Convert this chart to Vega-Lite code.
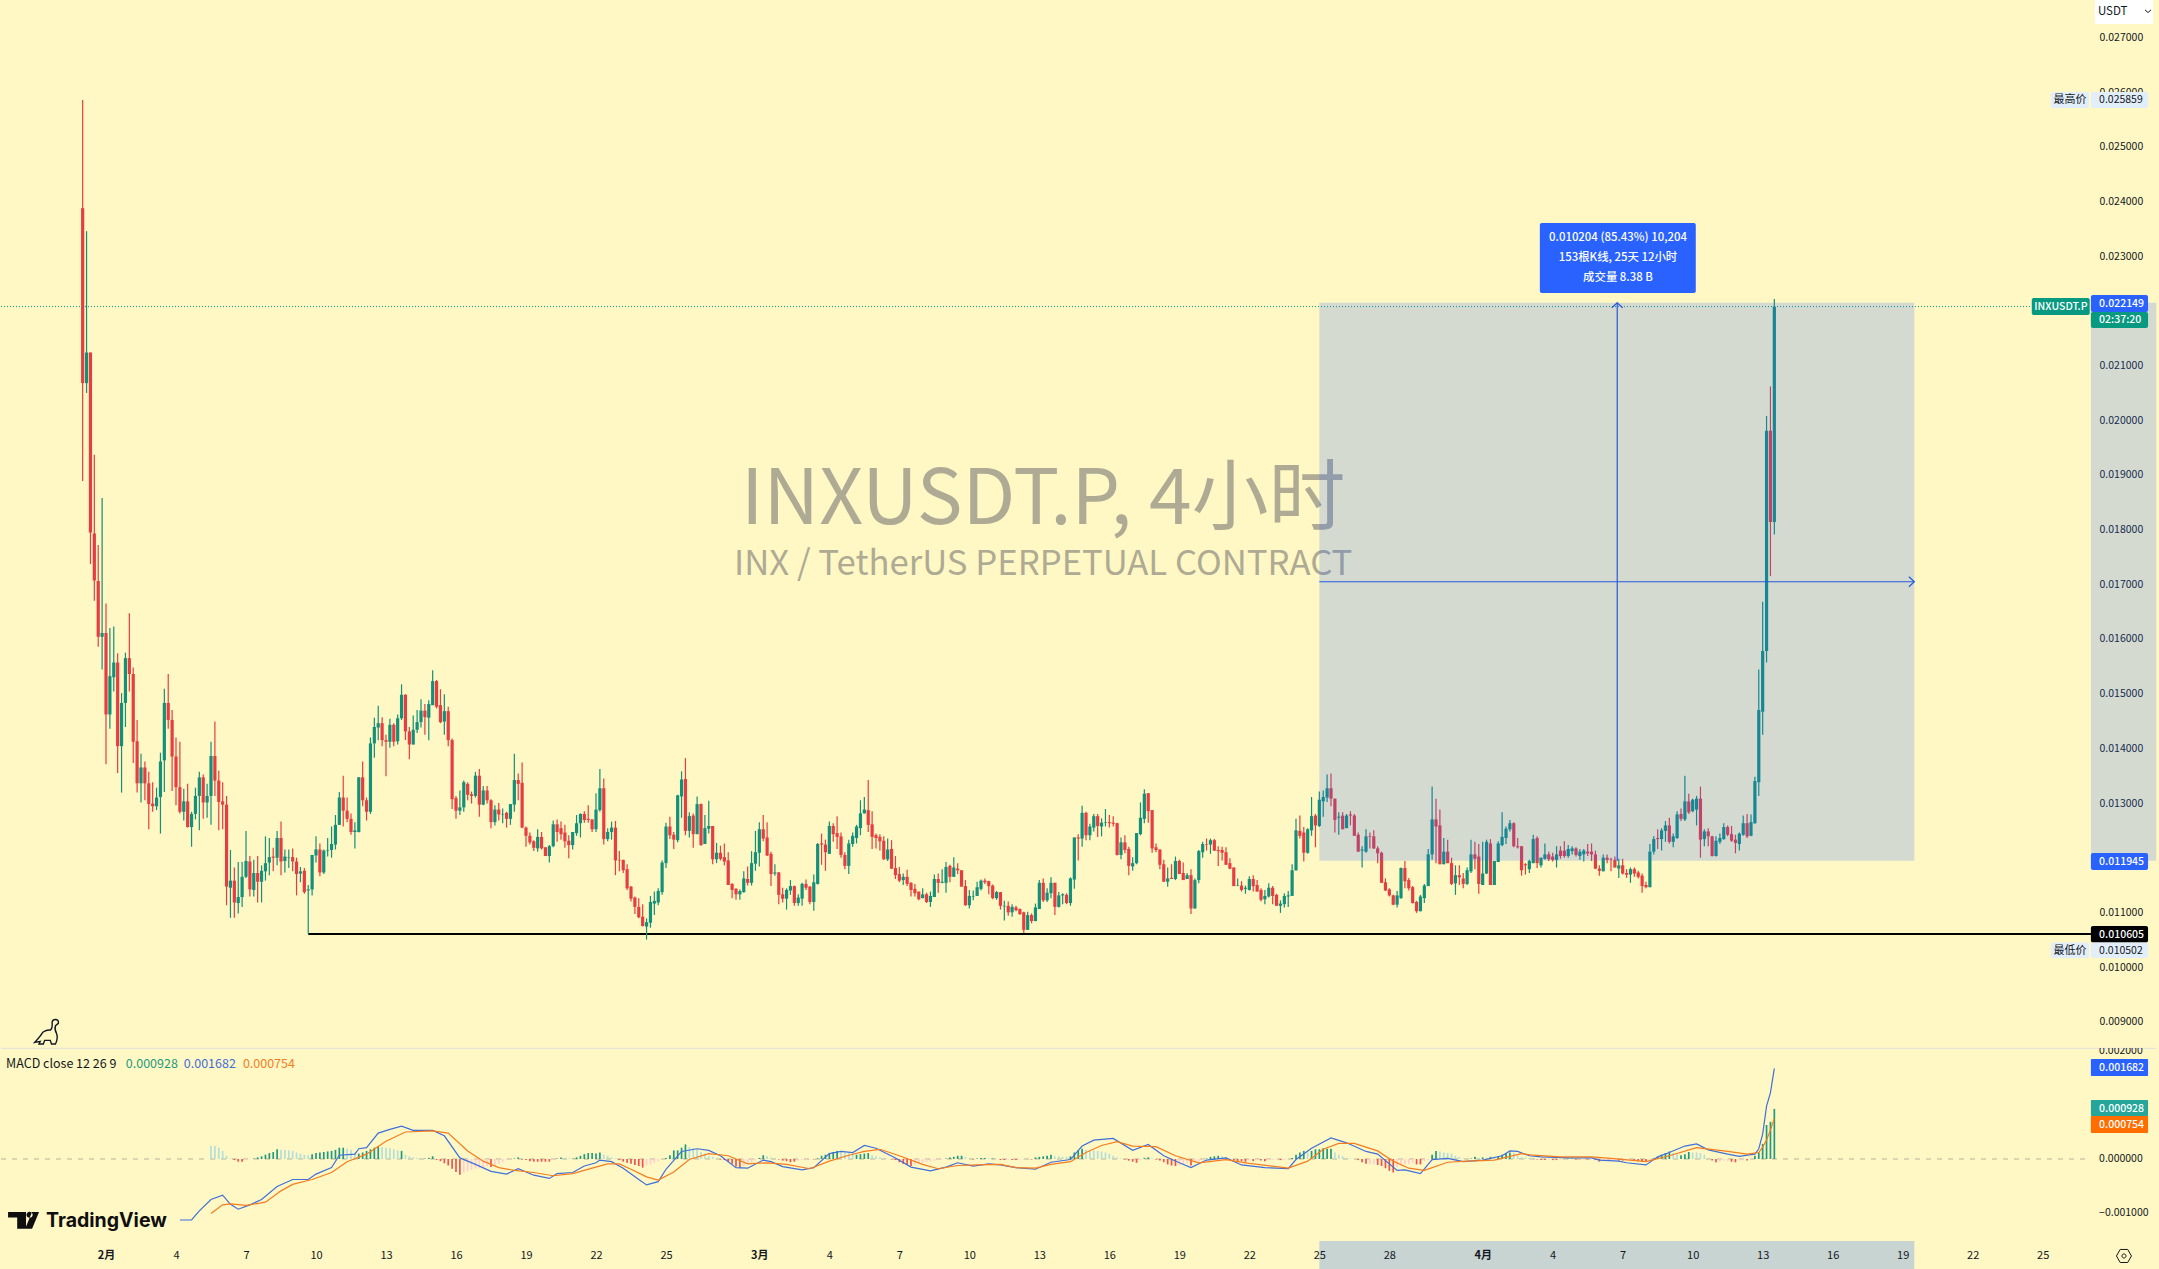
{"$schema":"https://vega.github.io/schema/vega-lite/v6.json","background":"#fff8c4","padding":0,"spacing":0,"autosize":{"type":"pad"},"config":{"view":{"stroke":null},"font":"Noto Sans CJK SC","text":{"font":"Noto Sans CJK SC"}},"resolve":{"scale":{"color":"independent"}},
"datasets":{
"candles":[
{"i":-6,"o":0.02388,"h":0.025859,"l":0.01889,"c":0.02068},{"i":-5,"o":0.02068,"h":0.02346,"l":0.0205,"c":0.02124},{"i":-4,"o":0.02124,"h":0.02124,"l":0.01737,"c":0.01795},{"i":-3,"o":0.01793,"h":0.01937,"l":0.0167,"c":0.01707},{"i":-2,"o":0.01706,"h":0.01772,"l":0.01586,"c":0.01604},{"i":-1,"o":0.01604,"h":0.01858,"l":0.01544,"c":0.01611},
{"i":0,"o":0.01611,"h":0.01665,"l":0.01371,"c":0.01462},{"i":1,"o":0.01462,"h":0.0162,"l":0.01436,"c":0.01532},{"i":2,"o":0.0153,"h":0.01623,"l":0.01504,"c":0.01557},{"i":3,"o":0.01557,"h":0.01574,"l":0.01355,"c":0.01404},{"i":4,"o":0.01404,"h":0.01501,"l":0.01319,"c":0.01483},{"i":5,"o":0.01483,"h":0.01575,"l":0.01439,"c":0.01565},{"i":6,"o":0.01565,"h":0.01647,"l":0.01504,"c":0.01536},{"i":7,"o":0.01536,"h":0.01548,"l":0.01373,"c":0.01412},{"i":8,"o":0.01413,"h":0.01452,"l":0.01319,"c":0.01336},{"i":9,"o":0.01336,"h":0.0139,"l":0.01301,"c":0.01365},
{"i":10,"o":0.01365,"h":0.01376,"l":0.01305,"c":0.01336},{"i":11,"o":0.01336,"h":0.01357,"l":0.01252,"c":0.01298},{"i":12,"o":0.01299,"h":0.01338,"l":0.01284,"c":0.01294},{"i":13,"o":0.01294,"h":0.01328,"l":0.01287,"c":0.0131},{"i":14,"o":0.01311,"h":0.01392,"l":0.01244,"c":0.01376},{"i":15,"o":0.01378,"h":0.01509,"l":0.0132,"c":0.01483},{"i":16,"o":0.01483,"h":0.01536,"l":0.01436,"c":0.01452},{"i":17,"o":0.01452,"h":0.0147,"l":0.01322,"c":0.01385},{"i":18,"o":0.01385,"h":0.0142,"l":0.01296,"c":0.01329},{"i":19,"o":0.01329,"h":0.01412,"l":0.01281,"c":0.01284},
{"i":20,"o":0.01284,"h":0.01326,"l":0.01268,"c":0.01303},{"i":21,"o":0.01303,"h":0.01335,"l":0.01255,"c":0.01256},{"i":22,"o":0.01256,"h":0.01284,"l":0.0122,"c":0.0128},{"i":23,"o":0.0128,"h":0.01328,"l":0.0127,"c":0.01313},{"i":24,"o":0.01313,"h":0.01357,"l":0.0125,"c":0.01347},{"i":25,"o":0.01347,"h":0.01352,"l":0.01271,"c":0.01301},{"i":26,"o":0.01301,"h":0.01335,"l":0.01273,"c":0.01313},{"i":27,"o":0.01313,"h":0.01412,"l":0.0126,"c":0.01386},{"i":28,"o":0.01386,"h":0.01449,"l":0.01313,"c":0.01341},{"i":29,"o":0.01341,"h":0.01359,"l":0.0125,"c":0.01302},
{"i":30,"o":0.01303,"h":0.01338,"l":0.01252,"c":0.01297},{"i":31,"o":0.01297,"h":0.01313,"l":0.01113,"c":0.01147},{"i":32,"o":0.01145,"h":0.01214,"l":0.0109,"c":0.01158},{"i":33,"o":0.01158,"h":0.01182,"l":0.0109,"c":0.01118},{"i":34,"o":0.01117,"h":0.01192,"l":0.01098,"c":0.01128},{"i":35,"o":0.01128,"h":0.01192,"l":0.0111,"c":0.01165},{"i":36,"o":0.01165,"h":0.01249,"l":0.01163,"c":0.01194},{"i":37,"o":0.01193,"h":0.01203,"l":0.01129,"c":0.01142},{"i":38,"o":0.01141,"h":0.01196,"l":0.01129,"c":0.01172},{"i":39,"o":0.01172,"h":0.01203,"l":0.01118,"c":0.01156},
{"i":40,"o":0.01156,"h":0.01186,"l":0.01118,"c":0.01176},{"i":41,"o":0.01175,"h":0.01239,"l":0.01158,"c":0.0119},{"i":42,"o":0.01191,"h":0.01236,"l":0.01168,"c":0.01201},{"i":43,"o":0.01202,"h":0.01218,"l":0.01175,"c":0.012},{"i":44,"o":0.012,"h":0.01249,"l":0.01186,"c":0.01236},{"i":45,"o":0.01236,"h":0.01266,"l":0.01168,"c":0.01193},{"i":46,"o":0.01194,"h":0.01215,"l":0.01173,"c":0.01202},{"i":47,"o":0.012,"h":0.01215,"l":0.01181,"c":0.01201},{"i":48,"o":0.01201,"h":0.01217,"l":0.01175,"c":0.01193},{"i":49,"o":0.01193,"h":0.012,"l":0.01131,"c":0.0117},
{"i":50,"o":0.01171,"h":0.01183,"l":0.01155,"c":0.01175},{"i":51,"o":0.01176,"h":0.01181,"l":0.01134,"c":0.01137},{"i":52,"o":0.0114,"h":0.0115,"l":0.01061,"c":0.01142},{"i":53,"o":0.01142,"h":0.01205,"l":0.01131,"c":0.01205},{"i":54,"o":0.01204,"h":0.01239,"l":0.01191,"c":0.01215},{"i":55,"o":0.01215,"h":0.01226,"l":0.01166,"c":0.01173},{"i":56,"o":0.01173,"h":0.01215,"l":0.0117,"c":0.01213},{"i":57,"o":0.01213,"h":0.01236,"l":0.01202,"c":0.01214},{"i":58,"o":0.01214,"h":0.01257,"l":0.012,"c":0.01225},{"i":59,"o":0.01224,"h":0.01278,"l":0.01215,"c":0.0126},
{"i":60,"o":0.0126,"h":0.0132,"l":0.0126,"c":0.0131},{"i":61,"o":0.0131,"h":0.0135,"l":0.01257,"c":0.01286},{"i":62,"o":0.01286,"h":0.0131,"l":0.01265,"c":0.01271},{"i":63,"o":0.01271,"h":0.01281,"l":0.01242,"c":0.01247},{"i":64,"o":0.01247,"h":0.01265,"l":0.01217,"c":0.0125},{"i":65,"o":0.01247,"h":0.01347,"l":0.01246,"c":0.01347},{"i":66,"o":0.01347,"h":0.01376,"l":0.01294,"c":0.01305},{"i":67,"o":0.01305,"h":0.0131,"l":0.01268,"c":0.01284},{"i":68,"o":0.01284,"h":0.0142,"l":0.0128,"c":0.01409},{"i":69,"o":0.01409,"h":0.01456,"l":0.01383,"c":0.01439},
{"i":70,"o":0.01438,"h":0.01478,"l":0.01415,"c":0.01446},{"i":71,"o":0.01446,"h":0.01457,"l":0.01404,"c":0.01415},{"i":72,"o":0.01415,"h":0.01425,"l":0.01349,"c":0.01412},{"i":73,"o":0.01412,"h":0.01454,"l":0.01401,"c":0.01443},{"i":74,"o":0.01443,"h":0.01446,"l":0.01404,"c":0.01412},{"i":75,"o":0.01413,"h":0.01462,"l":0.01407,"c":0.01455},{"i":76,"o":0.01455,"h":0.01517,"l":0.01452,"c":0.01498},{"i":77,"o":0.01498,"h":0.01499,"l":0.01415,"c":0.01431},{"i":78,"o":0.01431,"h":0.01439,"l":0.0138,"c":0.01407},{"i":79,"o":0.01407,"h":0.0146,"l":0.01407,"c":0.01434},
{"i":80,"o":0.01434,"h":0.0147,"l":0.01428,"c":0.01448},{"i":81,"o":0.01448,"h":0.0149,"l":0.01438,"c":0.01469},{"i":82,"o":0.01469,"h":0.01481,"l":0.01425,"c":0.01457},{"i":83,"o":0.01456,"h":0.01488,"l":0.01415,"c":0.01481},{"i":84,"o":0.01479,"h":0.01543,"l":0.01479,"c":0.01523},{"i":85,"o":0.01523,"h":0.01525,"l":0.01473,"c":0.01476},{"i":86,"o":0.01479,"h":0.01508,"l":0.01446,"c":0.01448},{"i":87,"o":0.01449,"h":0.01499,"l":0.01425,"c":0.01468},{"i":88,"o":0.01468,"h":0.01476,"l":0.01404,"c":0.01415},{"i":89,"o":0.01415,"h":0.01418,"l":0.01289,"c":0.01307},
{"i":90,"o":0.01309,"h":0.01313,"l":0.01271,"c":0.01286},{"i":91,"o":0.01286,"h":0.01323,"l":0.01278,"c":0.01292},{"i":92,"o":0.01292,"h":0.01341,"l":0.01284,"c":0.01338},{"i":93,"o":0.01335,"h":0.01338,"l":0.01305,"c":0.01315},{"i":94,"o":0.01316,"h":0.01321,"l":0.01299,"c":0.01313},{"i":95,"o":0.01313,"h":0.01357,"l":0.0131,"c":0.0135},{"i":96,"o":0.0135,"h":0.01362,"l":0.01275,"c":0.01297},{"i":97,"o":0.01297,"h":0.01331,"l":0.01296,"c":0.01323},{"i":98,"o":0.01323,"h":0.01331,"l":0.01299,"c":0.01305},{"i":99,"o":0.01305,"h":0.01307,"l":0.01254,"c":0.01265},
{"i":100,"o":0.01265,"h":0.01296,"l":0.01259,"c":0.01288},{"i":101,"o":0.01288,"h":0.013,"l":0.01268,"c":0.01279},{"i":102,"o":0.01279,"h":0.0129,"l":0.01263,"c":0.0128},{"i":103,"o":0.01282,"h":0.01284,"l":0.01255,"c":0.01271},{"i":104,"o":0.01271,"h":0.01298,"l":0.0126,"c":0.01298},{"i":105,"o":0.01297,"h":0.0139,"l":0.01284,"c":0.01342},{"i":106,"o":0.01342,"h":0.01354,"l":0.01305,"c":0.01335},{"i":107,"o":0.01337,"h":0.01374,"l":0.01254,"c":0.01255},{"i":108,"o":0.01255,"h":0.01257,"l":0.0122,"c":0.0124},{"i":109,"o":0.0124,"h":0.01246,"l":0.01224,"c":0.01228},
{"i":110,"o":0.0123,"h":0.01232,"l":0.01212,"c":0.01218},{"i":111,"o":0.01217,"h":0.01252,"l":0.01211,"c":0.01238},{"i":112,"o":0.01238,"h":0.01247,"l":0.01215,"c":0.01217},{"i":113,"o":0.01219,"h":0.01219,"l":0.01203,"c":0.01203},{"i":114,"o":0.01203,"h":0.01223,"l":0.01191,"c":0.01221},{"i":115,"o":0.01221,"h":0.01268,"l":0.01219,"c":0.01261},{"i":116,"o":0.01261,"h":0.0127,"l":0.01229,"c":0.01247},{"i":117,"o":0.01254,"h":0.01266,"l":0.01233,"c":0.01243},{"i":118,"o":0.01246,"h":0.0126,"l":0.01218,"c":0.0123},{"i":119,"o":0.01231,"h":0.01241,"l":0.01199,"c":0.01223},
{"i":120,"o":0.01223,"h":0.01247,"l":0.01215,"c":0.01247},{"i":121,"o":0.01245,"h":0.01278,"l":0.0124,"c":0.01263},{"i":122,"o":0.01263,"h":0.01281,"l":0.01237,"c":0.0128},{"i":123,"o":0.0128,"h":0.01285,"l":0.01264,"c":0.01269},{"i":124,"o":0.01271,"h":0.01296,"l":0.01264,"c":0.01269},{"i":125,"o":0.0127,"h":0.0127,"l":0.01247,"c":0.01252},{"i":126,"o":0.01252,"h":0.01318,"l":0.01247,"c":0.01288},{"i":127,"o":0.01287,"h":0.01362,"l":0.01284,"c":0.01327},{"i":128,"o":0.01327,"h":0.01345,"l":0.01224,"c":0.01234},{"i":129,"o":0.01234,"h":0.01254,"l":0.0123,"c":0.01247},
{"i":130,"o":0.01247,"h":0.01266,"l":0.01233,"c":0.01255},{"i":131,"o":0.01255,"h":0.01267,"l":0.01168,"c":0.01195},{"i":132,"o":0.01196,"h":0.01212,"l":0.01175,"c":0.01195},{"i":133,"o":0.01196,"h":0.01196,"l":0.01172,"c":0.01177},{"i":134,"o":0.01179,"h":0.01188,"l":0.01141,"c":0.01144},{"i":135,"o":0.01147,"h":0.01148,"l":0.0112,"c":0.01125},{"i":136,"o":0.01127,"h":0.01129,"l":0.01097,"c":0.0111},{"i":137,"o":0.0111,"h":0.01126,"l":0.01089,"c":0.01091},{"i":138,"o":0.01092,"h":0.01115,"l":0.01074,"c":0.01075},{"i":139,"o":0.01074,"h":0.01089,"l":0.010502,"c":0.01082},
{"i":140,"o":0.01081,"h":0.0113,"l":0.01072,"c":0.01119},{"i":141,"o":0.01116,"h":0.01138,"l":0.01095,"c":0.01121},{"i":142,"o":0.01118,"h":0.01144,"l":0.01113,"c":0.01139},{"i":143,"o":0.01137,"h":0.01195,"l":0.01132,"c":0.01191},{"i":144,"o":0.0119,"h":0.01264,"l":0.01181,"c":0.01257},{"i":145,"o":0.01257,"h":0.01275,"l":0.01234,"c":0.01241},{"i":146,"o":0.01242,"h":0.01247,"l":0.01216,"c":0.01233},{"i":147,"o":0.01232,"h":0.01315,"l":0.01228,"c":0.01314},{"i":148,"o":0.01312,"h":0.01358,"l":0.01273,"c":0.01343},{"i":149,"o":0.01344,"h":0.01382,"l":0.01241,"c":0.01249},
{"i":150,"o":0.01249,"h":0.01283,"l":0.01237,"c":0.01276},{"i":151,"o":0.01277,"h":0.01281,"l":0.01218,"c":0.01243},{"i":152,"o":0.01243,"h":0.01312,"l":0.01243,"c":0.01298},{"i":153,"o":0.01298,"h":0.01299,"l":0.01222,"c":0.01223},{"i":154,"o":0.01225,"h":0.01278,"l":0.01225,"c":0.01254},{"i":155,"o":0.01253,"h":0.01304,"l":0.01244,"c":0.01258},{"i":156,"o":0.01258,"h":0.01258,"l":0.01188,"c":0.01197},{"i":157,"o":0.01197,"h":0.01227,"l":0.0119,"c":0.01209},{"i":158,"o":0.01209,"h":0.01222,"l":0.01195,"c":0.01198},{"i":159,"o":0.01201,"h":0.01226,"l":0.01186,"c":0.01193},
{"i":160,"o":0.01195,"h":0.0121,"l":0.0115,"c":0.0115},{"i":161,"o":0.01152,"h":0.01153,"l":0.01126,"c":0.01141},{"i":162,"o":0.01143,"h":0.01144,"l":0.01123,"c":0.01133},{"i":163,"o":0.01133,"h":0.01142,"l":0.01123,"c":0.01139},{"i":164,"o":0.01137,"h":0.01175,"l":0.01136,"c":0.01162},{"i":165,"o":0.01161,"h":0.01184,"l":0.01149,"c":0.01154},{"i":166,"o":0.01154,"h":0.01212,"l":0.01149,"c":0.0119},{"i":167,"o":0.01189,"h":0.01249,"l":0.01176,"c":0.0121},{"i":168,"o":0.01209,"h":0.01265,"l":0.01184,"c":0.01252},{"i":169,"o":0.01252,"h":0.01278,"l":0.0123,"c":0.01235},
{"i":170,"o":0.01237,"h":0.01265,"l":0.01203,"c":0.01204},{"i":171,"o":0.01207,"h":0.01211,"l":0.01148,"c":0.0117},{"i":172,"o":0.01171,"h":0.01188,"l":0.01167,"c":0.01173},{"i":173,"o":0.01173,"h":0.01174,"l":0.01115,"c":0.01132},{"i":174,"o":0.01133,"h":0.01145,"l":0.01118,"c":0.01125},{"i":175,"o":0.01125,"h":0.01144,"l":0.01105,"c":0.01141},{"i":176,"o":0.0114,"h":0.01159,"l":0.01132,"c":0.01148},{"i":177,"o":0.01148,"h":0.01149,"l":0.01112,"c":0.01117},{"i":178,"o":0.01117,"h":0.01133,"l":0.01112,"c":0.01127},{"i":179,"o":0.01125,"h":0.01154,"l":0.01112,"c":0.01152},
{"i":180,"o":0.01152,"h":0.0116,"l":0.01141,"c":0.01145},{"i":181,"o":0.01147,"h":0.01148,"l":0.01115,"c":0.01119},{"i":182,"o":0.01119,"h":0.01169,"l":0.01103,"c":0.01155},{"i":183,"o":0.01152,"h":0.01227,"l":0.01151,"c":0.01225},{"i":184,"o":0.01226,"h":0.01244,"l":0.01187,"c":0.01224},{"i":185,"o":0.01224,"h":0.01233,"l":0.01176,"c":0.0121},{"i":186,"o":0.01207,"h":0.01266,"l":0.01207,"c":0.01258},{"i":187,"o":0.01258,"h":0.01263,"l":0.01229,"c":0.01243},{"i":188,"o":0.01245,"h":0.01276,"l":0.01216,"c":0.01238},{"i":189,"o":0.01239,"h":0.01246,"l":0.012,"c":0.01205},
{"i":190,"o":0.01205,"h":0.0121,"l":0.01179,"c":0.01185},{"i":191,"o":0.01185,"h":0.01233,"l":0.0117,"c":0.01226},{"i":192,"o":0.01225,"h":0.01246,"l":0.0122,"c":0.0124},{"i":193,"o":0.01236,"h":0.0126,"l":0.01226,"c":0.01257},{"i":194,"o":0.01254,"h":0.01305,"l":0.01241,"c":0.01281},{"i":195,"o":0.01281,"h":0.01311,"l":0.01281,"c":0.01288},{"i":196,"o":0.01287,"h":0.01342,"l":0.01247,"c":0.0126},{"i":197,"o":0.01261,"h":0.01285,"l":0.01216,"c":0.01238},{"i":198,"o":0.01241,"h":0.01244,"l":0.01217,"c":0.01236},{"i":199,"o":0.01238,"h":0.01243,"l":0.01213,"c":0.0123},
{"i":200,"o":0.01231,"h":0.01239,"l":0.01196,"c":0.01197},{"i":201,"o":0.01197,"h":0.01235,"l":0.01194,"c":0.01215},{"i":202,"o":0.01216,"h":0.01232,"l":0.01179,"c":0.0118},{"i":203,"o":0.01181,"h":0.01203,"l":0.01161,"c":0.01168},{"i":204,"o":0.0117,"h":0.01183,"l":0.01155,"c":0.01158},{"i":205,"o":0.01159,"h":0.01171,"l":0.0115,"c":0.01165},{"i":206,"o":0.01165,"h":0.01178,"l":0.01148,"c":0.01152},{"i":207,"o":0.01154,"h":0.01155,"l":0.01129,"c":0.01141},{"i":208,"o":0.01143,"h":0.01152,"l":0.01129,"c":0.01135},{"i":209,"o":0.01138,"h":0.01138,"l":0.01122,"c":0.01124},
{"i":210,"o":0.01126,"h":0.01144,"l":0.01126,"c":0.01133},{"i":211,"o":0.01133,"h":0.01136,"l":0.01117,"c":0.01119},{"i":212,"o":0.01119,"h":0.01138,"l":0.0111,"c":0.0113},{"i":213,"o":0.01128,"h":0.01169,"l":0.01128,"c":0.01161},{"i":214,"o":0.01161,"h":0.01171,"l":0.01136,"c":0.01154},{"i":215,"o":0.01154,"h":0.01179,"l":0.01153,"c":0.01156},{"i":216,"o":0.01154,"h":0.01192,"l":0.01136,"c":0.01183},{"i":217,"o":0.01185,"h":0.01187,"l":0.01155,"c":0.01165},{"i":218,"o":0.01165,"h":0.01201,"l":0.01165,"c":0.01182},{"i":219,"o":0.0118,"h":0.0119,"l":0.0117,"c":0.01177},
{"i":220,"o":0.01177,"h":0.01177,"l":0.01147,"c":0.01147},{"i":221,"o":0.01148,"h":0.01159,"l":0.01112,"c":0.01113},{"i":222,"o":0.01113,"h":0.01141,"l":0.01107,"c":0.0113},{"i":223,"o":0.01129,"h":0.0114,"l":0.01122,"c":0.0113},{"i":224,"o":0.0113,"h":0.01156,"l":0.0113,"c":0.01146},{"i":225,"o":0.01143,"h":0.0116,"l":0.0114,"c":0.01158},{"i":226,"o":0.01158,"h":0.01162,"l":0.01152,"c":0.01155},{"i":227,"o":0.01157,"h":0.01158,"l":0.01133,"c":0.01148},{"i":228,"o":0.01149,"h":0.01151,"l":0.01124,"c":0.01126},{"i":229,"o":0.01126,"h":0.01139,"l":0.01123,"c":0.01137},
{"i":230,"o":0.01137,"h":0.01137,"l":0.01105,"c":0.01112},{"i":231,"o":0.01111,"h":0.01121,"l":0.01085,"c":0.01112},{"i":232,"o":0.01112,"h":0.0112,"l":0.01094,"c":0.011},{"i":233,"o":0.011,"h":0.01115,"l":0.01092,"c":0.0111},{"i":234,"o":0.01109,"h":0.01112,"l":0.01102,"c":0.01104},{"i":235,"o":0.01106,"h":0.01107,"l":0.01095,"c":0.01097},{"i":236,"o":0.011,"h":0.01101,"l":0.01062,"c":0.01068},{"i":237,"o":0.01068,"h":0.01101,"l":0.01068,"c":0.01095},{"i":238,"o":0.01095,"h":0.01098,"l":0.0108,"c":0.01084},{"i":239,"o":0.01084,"h":0.01116,"l":0.01084,"c":0.01109},
{"i":240,"o":0.01106,"h":0.01159,"l":0.01106,"c":0.01154},{"i":241,"o":0.01154,"h":0.01162,"l":0.01119,"c":0.01122},{"i":242,"o":0.01122,"h":0.01144,"l":0.01119,"c":0.01136},{"i":243,"o":0.01135,"h":0.01164,"l":0.01126,"c":0.01154},{"i":244,"o":0.01154,"h":0.01154,"l":0.01095,"c":0.0111},{"i":245,"o":0.0111,"h":0.01137,"l":0.01109,"c":0.01131},{"i":246,"o":0.01131,"h":0.01135,"l":0.01115,"c":0.01133},{"i":247,"o":0.01132,"h":0.01135,"l":0.01115,"c":0.01117},{"i":248,"o":0.01117,"h":0.01164,"l":0.01112,"c":0.01162},{"i":249,"o":0.0116,"h":0.01237,"l":0.01143,"c":0.01237},
{"i":250,"o":0.01237,"h":0.01243,"l":0.01195,"c":0.01235},{"i":251,"o":0.01235,"h":0.01295,"l":0.0122,"c":0.01282},{"i":252,"o":0.01282,"h":0.01284,"l":0.01232,"c":0.01241},{"i":253,"o":0.01241,"h":0.01262,"l":0.01232,"c":0.01257},{"i":254,"o":0.01255,"h":0.0128,"l":0.01248,"c":0.01276},{"i":255,"o":0.01276,"h":0.0128,"l":0.01238,"c":0.01258},{"i":256,"o":0.01257,"h":0.01272,"l":0.01239,"c":0.01264},{"i":257,"o":0.01264,"h":0.01289,"l":0.01257,"c":0.01265},{"i":258,"o":0.01265,"h":0.01278,"l":0.01255,"c":0.01263},{"i":259,"o":0.01264,"h":0.01276,"l":0.01257,"c":0.01262},
{"i":260,"o":0.01263,"h":0.01264,"l":0.01204,"c":0.01205},{"i":261,"o":0.01205,"h":0.01237,"l":0.01197,"c":0.01228},{"i":262,"o":0.01228,"h":0.01241,"l":0.01208,"c":0.01214},{"i":263,"o":0.01216,"h":0.0122,"l":0.01168,"c":0.01185},{"i":264,"o":0.01184,"h":0.01201,"l":0.01176,"c":0.0119},{"i":265,"o":0.0119,"h":0.01245,"l":0.01188,"c":0.01245},{"i":266,"o":0.01243,"h":0.01301,"l":0.01241,"c":0.01273},{"i":267,"o":0.01271,"h":0.01325,"l":0.01263,"c":0.01317},{"i":268,"o":0.01318,"h":0.01318,"l":0.01264,"c":0.01285},{"i":269,"o":0.01287,"h":0.01287,"l":0.01209,"c":0.01217},
{"i":270,"o":0.01219,"h":0.01226,"l":0.0121,"c":0.01214},{"i":271,"o":0.01215,"h":0.01215,"l":0.01179,"c":0.01187},{"i":272,"o":0.01188,"h":0.01196,"l":0.01156,"c":0.01156},{"i":273,"o":0.01156,"h":0.01182,"l":0.01147,"c":0.01162},{"i":274,"o":0.01163,"h":0.01188,"l":0.01161,"c":0.01161},{"i":275,"o":0.01161,"h":0.01202,"l":0.01159,"c":0.01194},{"i":276,"o":0.01194,"h":0.01196,"l":0.0117,"c":0.0117},{"i":277,"o":0.01172,"h":0.01191,"l":0.01159,"c":0.01159},{"i":278,"o":0.01161,"h":0.01172,"l":0.01161,"c":0.01168},{"i":279,"o":0.01168,"h":0.01179,"l":0.01097,"c":0.01107},
{"i":280,"o":0.01107,"h":0.01162,"l":0.01107,"c":0.01159},{"i":281,"o":0.01159,"h":0.01214,"l":0.01153,"c":0.01212},{"i":282,"o":0.0121,"h":0.01229,"l":0.012,"c":0.01225},{"i":283,"o":0.01225,"h":0.01235,"l":0.01213,"c":0.01224},{"i":284,"o":0.01224,"h":0.01235,"l":0.01207,"c":0.01232},{"i":285,"o":0.01232,"h":0.01234,"l":0.01212,"c":0.01213},{"i":286,"o":0.01214,"h":0.01221,"l":0.01185,"c":0.01212},{"i":287,"o":0.01214,"h":0.0122,"l":0.01195,"c":0.01209},{"i":288,"o":0.0121,"h":0.01219,"l":0.01187,"c":0.01187},{"i":289,"o":0.0119,"h":0.01199,"l":0.01179,"c":0.0118},
{"i":290,"o":0.01182,"h":0.01182,"l":0.01148,"c":0.01148},{"i":291,"o":0.01148,"h":0.01162,"l":0.01148,"c":0.01149},{"i":292,"o":0.01149,"h":0.01157,"l":0.01138,"c":0.01141},{"i":293,"o":0.01143,"h":0.01149,"l":0.01134,"c":0.01145},{"i":294,"o":0.01141,"h":0.01166,"l":0.0114,"c":0.01161},{"i":295,"o":0.01161,"h":0.01168,"l":0.01138,"c":0.01148},{"i":296,"o":0.0115,"h":0.01159,"l":0.01138,"c":0.01138},{"i":297,"o":0.01141,"h":0.01144,"l":0.0112,"c":0.01123},{"i":298,"o":0.01124,"h":0.01141,"l":0.01115,"c":0.0113},{"i":299,"o":0.01129,"h":0.01153,"l":0.01127,"c":0.01145},
{"i":300,"o":0.01145,"h":0.01148,"l":0.01115,"c":0.0113},{"i":301,"o":0.01132,"h":0.01134,"l":0.01112,"c":0.01112},{"i":302,"o":0.01112,"h":0.01122,"l":0.01099,"c":0.01116},{"i":303,"o":0.01115,"h":0.01135,"l":0.01109,"c":0.0113},{"i":304,"o":0.01129,"h":0.01139,"l":0.0111,"c":0.01131},{"i":305,"o":0.0113,"h":0.01188,"l":0.0113,"c":0.01177},{"i":306,"o":0.01177,"h":0.01271,"l":0.01176,"c":0.0125},{"i":307,"o":0.01249,"h":0.01277,"l":0.01235,"c":0.0124},{"i":308,"o":0.01246,"h":0.01256,"l":0.01193,"c":0.01209},{"i":309,"o":0.01209,"h":0.01254,"l":0.01207,"c":0.01252},
{"i":310,"o":0.0125,"h":0.01311,"l":0.0124,"c":0.01276},{"i":311,"o":0.01277,"h":0.0128,"l":0.01219,"c":0.01259},{"i":312,"o":0.01258,"h":0.01321,"l":0.01256,"c":0.01306},{"i":313,"o":0.01303,"h":0.01323,"l":0.01275,"c":0.01311},{"i":314,"o":0.0131,"h":0.01352,"l":0.01302,"c":0.01327},{"i":315,"o":0.01327,"h":0.01354,"l":0.01294,"c":0.01308},{"i":316,"o":0.01308,"h":0.01308,"l":0.01246,"c":0.01269},{"i":317,"o":0.01273,"h":0.01283,"l":0.01242,"c":0.01275},{"i":318,"o":0.01277,"h":0.01283,"l":0.01252,"c":0.01252},{"i":319,"o":0.01254,"h":0.0128,"l":0.01254,"c":0.01277},
{"i":320,"o":0.01279,"h":0.01285,"l":0.01259,"c":0.01277},{"i":321,"o":0.01277,"h":0.0128,"l":0.0124,"c":0.0124},{"i":322,"o":0.01242,"h":0.01246,"l":0.01211,"c":0.01211},{"i":323,"o":0.01213,"h":0.01221,"l":0.01182,"c":0.01215},{"i":324,"o":0.01211,"h":0.01252,"l":0.01209,"c":0.01239},{"i":325,"o":0.01239,"h":0.01246,"l":0.01217,"c":0.01238},{"i":326,"o":0.01239,"h":0.0125,"l":0.01216,"c":0.01217},{"i":327,"o":0.01217,"h":0.01221,"l":0.0119,"c":0.01208},{"i":328,"o":0.01209,"h":0.01211,"l":0.01154,"c":0.01154},{"i":329,"o":0.01155,"h":0.01162,"l":0.01139,"c":0.0114},
{"i":330,"o":0.01142,"h":0.01144,"l":0.01129,"c":0.01131},{"i":331,"o":0.01131,"h":0.01132,"l":0.01113,"c":0.01114},{"i":332,"o":0.01114,"h":0.01139,"l":0.01109,"c":0.01131},{"i":333,"o":0.01126,"h":0.01182,"l":0.01125,"c":0.01181},{"i":334,"o":0.01181,"h":0.01194,"l":0.01144,"c":0.01157},{"i":335,"o":0.01159,"h":0.01163,"l":0.0114,"c":0.01144},{"i":336,"o":0.01146,"h":0.01148,"l":0.01116,"c":0.01117},{"i":337,"o":0.01119,"h":0.01121,"l":0.01099,"c":0.01102},{"i":338,"o":0.01102,"h":0.01132,"l":0.01102,"c":0.01129},{"i":339,"o":0.01126,"h":0.01152,"l":0.01117,"c":0.01149},
{"i":340,"o":0.01148,"h":0.01216,"l":0.01148,"c":0.01206},{"i":341,"o":0.01206,"h":0.0133,"l":0.01196,"c":0.0127},{"i":342,"o":0.0127,"h":0.01308,"l":0.0119,"c":0.01257},{"i":343,"o":0.01259,"h":0.01288,"l":0.01188,"c":0.01188},{"i":344,"o":0.01188,"h":0.01236,"l":0.01188,"c":0.01211},{"i":345,"o":0.01211,"h":0.01233,"l":0.0119,"c":0.0119},{"i":346,"o":0.0119,"h":0.012,"l":0.0115,"c":0.01152},{"i":347,"o":0.01153,"h":0.01186,"l":0.01132,"c":0.01168},{"i":348,"o":0.01168,"h":0.01186,"l":0.0115,"c":0.01164},{"i":349,"o":0.01162,"h":0.01172,"l":0.01144,"c":0.01152},
{"i":350,"o":0.01152,"h":0.01182,"l":0.0115,"c":0.01177},{"i":351,"o":0.01175,"h":0.01233,"l":0.01172,"c":0.01206},{"i":352,"o":0.01206,"h":0.01229,"l":0.01179,"c":0.01198},{"i":353,"o":0.01202,"h":0.01225,"l":0.01134,"c":0.01152},{"i":354,"o":0.0115,"h":0.01229,"l":0.0115,"c":0.01171},{"i":355,"o":0.01171,"h":0.01233,"l":0.0117,"c":0.01229},{"i":356,"o":0.01226,"h":0.01234,"l":0.0115,"c":0.0115},{"i":357,"o":0.0115,"h":0.01194,"l":0.0115,"c":0.01194},{"i":358,"o":0.01192,"h":0.0123,"l":0.01192,"c":0.01226},{"i":359,"o":0.01223,"h":0.01283,"l":0.01221,"c":0.01238},
{"i":360,"o":0.01236,"h":0.01257,"l":0.01225,"c":0.01253},{"i":361,"o":0.01252,"h":0.01269,"l":0.01248,"c":0.01263},{"i":362,"o":0.01263,"h":0.01265,"l":0.01219,"c":0.01221},{"i":363,"o":0.01221,"h":0.01236,"l":0.01217,"c":0.01219},{"i":364,"o":0.01221,"h":0.01221,"l":0.01167,"c":0.01177},{"i":365,"o":0.01188,"h":0.0119,"l":0.01169,"c":0.01186},{"i":366,"o":0.01179,"h":0.01196,"l":0.01172,"c":0.01194},{"i":367,"o":0.0119,"h":0.01242,"l":0.0119,"c":0.01234},{"i":368,"o":0.01236,"h":0.01239,"l":0.01181,"c":0.0119},{"i":369,"o":0.01186,"h":0.012,"l":0.01182,"c":0.012},
{"i":370,"o":0.01198,"h":0.01226,"l":0.01196,"c":0.01206},{"i":371,"o":0.01206,"h":0.01211,"l":0.01194,"c":0.01197},{"i":372,"o":0.01202,"h":0.01209,"l":0.01193,"c":0.01196},{"i":373,"o":0.01196,"h":0.01221,"l":0.01182,"c":0.01206},{"i":374,"o":0.01213,"h":0.01221,"l":0.01198,"c":0.01203},{"i":375,"o":0.01213,"h":0.0123,"l":0.012,"c":0.01203},{"i":376,"o":0.01203,"h":0.01223,"l":0.012,"c":0.01216},{"i":377,"o":0.01212,"h":0.01221,"l":0.01206,"c":0.01217},{"i":378,"o":0.01217,"h":0.01219,"l":0.01202,"c":0.01205},{"i":379,"o":0.01203,"h":0.01216,"l":0.01196,"c":0.01211},
{"i":380,"o":0.01206,"h":0.01216,"l":0.01193,"c":0.01213},{"i":381,"o":0.01211,"h":0.01225,"l":0.01203,"c":0.01208},{"i":382,"o":0.01211,"h":0.01226,"l":0.01194,"c":0.01206},{"i":383,"o":0.01206,"h":0.01213,"l":0.01179,"c":0.0118},{"i":384,"o":0.0118,"h":0.01186,"l":0.01167,"c":0.01176},{"i":385,"o":0.01175,"h":0.01206,"l":0.01175,"c":0.012},{"i":386,"o":0.012,"h":0.01206,"l":0.0119,"c":0.01196},{"i":387,"o":0.01197,"h":0.012,"l":0.01175,"c":0.01196},{"i":388,"o":0.01196,"h":0.01202,"l":0.01182,"c":0.01182},{"i":389,"o":0.0118,"h":0.01198,"l":0.01163,"c":0.01186},
{"i":390,"o":0.01186,"h":0.01198,"l":0.01169,"c":0.01171},{"i":391,"o":0.01172,"h":0.01179,"l":0.01163,"c":0.01169},{"i":392,"o":0.01169,"h":0.01182,"l":0.01154,"c":0.01179},{"i":393,"o":0.01179,"h":0.01182,"l":0.01165,"c":0.01171},{"i":394,"o":0.01173,"h":0.01176,"l":0.01162,"c":0.01165},{"i":395,"o":0.01167,"h":0.01171,"l":0.01136,"c":0.01148},{"i":396,"o":0.0115,"h":0.01156,"l":0.01144,"c":0.01146},{"i":397,"o":0.01146,"h":0.01225,"l":0.01146,"c":0.01211},{"i":398,"o":0.01211,"h":0.01239,"l":0.01206,"c":0.01234},{"i":399,"o":0.01236,"h":0.01252,"l":0.01216,"c":0.01234},
{"i":400,"o":0.01234,"h":0.01254,"l":0.01213,"c":0.0125},{"i":401,"o":0.01249,"h":0.01267,"l":0.01229,"c":0.01259},{"i":402,"o":0.01259,"h":0.01273,"l":0.01226,"c":0.01229},{"i":403,"o":0.01229,"h":0.01244,"l":0.01219,"c":0.01239},{"i":404,"o":0.01236,"h":0.01285,"l":0.01234,"c":0.01279},{"i":405,"o":0.0128,"h":0.0129,"l":0.01267,"c":0.01271},{"i":406,"o":0.0127,"h":0.0135,"l":0.01267,"c":0.01303},{"i":407,"o":0.01303,"h":0.01317,"l":0.0128,"c":0.01283},{"i":408,"o":0.01285,"h":0.01308,"l":0.01283,"c":0.01306},{"i":409,"o":0.01288,"h":0.01313,"l":0.01259,"c":0.01308},
{"i":410,"o":0.01308,"h":0.0133,"l":0.012,"c":0.01233},{"i":411,"o":0.01234,"h":0.01252,"l":0.01221,"c":0.01248},{"i":412,"o":0.01248,"h":0.01254,"l":0.01221,"c":0.01239},{"i":413,"o":0.01239,"h":0.0124,"l":0.01202,"c":0.01203},{"i":414,"o":0.01203,"h":0.01239,"l":0.01202,"c":0.01231},{"i":415,"o":0.01229,"h":0.01244,"l":0.01225,"c":0.01236},{"i":416,"o":0.01234,"h":0.01263,"l":0.01233,"c":0.01256},{"i":417,"o":0.01256,"h":0.01259,"l":0.01239,"c":0.01242},{"i":418,"o":0.01243,"h":0.01258,"l":0.01229,"c":0.01231},{"i":419,"o":0.01233,"h":0.01242,"l":0.01208,"c":0.01227},
{"i":420,"o":0.01225,"h":0.01246,"l":0.01213,"c":0.01244},{"i":421,"o":0.01242,"h":0.01277,"l":0.0124,"c":0.01263},{"i":422,"o":0.01263,"h":0.0128,"l":0.01236,"c":0.01239},{"i":423,"o":0.0124,"h":0.01279,"l":0.01239,"c":0.01265},{"i":424,"o":0.01263,"h":0.01348,"l":0.01262,"c":0.0134},{"i":425,"o":0.01338,"h":0.01544,"l":0.01313,"c":0.0147},{"i":426,"o":0.01467,"h":0.01668,"l":0.01425,"c":0.01578},{"i":427,"o":0.01578,"h":0.02008,"l":0.01557,"c":0.01981},{"i":428,"o":0.01981,"h":0.02062,"l":0.01715,"c":0.01814},{"i":429,"o":0.01814,"h":0.02222,"l":0.01791,"c":0.02208}
],
"lines":[
{"s":"macd","i":19,"v":-0.00113},{"s":"macd","i":22,"v":-0.00113},{"s":"macd","i":24,"v":-0.00096},{"s":"macd","i":27,"v":-0.00075},{"s":"macd","i":30,"v":-0.00067},{"s":"macd","i":32,"v":-0.00084},{"s":"macd","i":34,"v":-0.00093},{"s":"macd","i":37,"v":-0.00085},{"s":"macd","i":40,"v":-0.00075},{"s":"macd","i":44,"v":-0.00051},{"s":"macd","i":48,"v":-0.00038},{"s":"macd","i":52,"v":-0.00038},{"s":"macd","i":54,"v":-0.00028},{"s":"macd","i":58,"v":-0.00016},{"s":"macd","i":60,"v":0.00007},{"s":"macd","i":64,"v":0.00009},{"s":"macd","i":65,"v":0.00019},{"s":"macd","i":67,"v":0.00021},{"s":"macd","i":70,"v":0.00048},{"s":"macd","i":73,"v":0.00055},{"s":"macd","i":76,"v":0.00061},{"s":"macd","i":79,"v":0.00053},{"s":"macd","i":84,"v":0.00053},{"s":"macd","i":87,"v":0.00043},{"s":"macd","i":91,"v":0.00002},{"s":"macd","i":95,"v":-0.0001},{"s":"macd","i":99,"v":-0.00023},{"s":"macd","i":103,"v":-0.00028},{"s":"macd","i":106,"v":-0.00018},{"s":"macd","i":110,"v":-0.0003},{"s":"macd","i":114,"v":-0.00036},{"s":"macd","i":116,"v":-0.00027},{"s":"macd","i":120,"v":-0.00025},{"s":"macd","i":123,"v":-0.00013},{"s":"macd","i":126,"v":-0.00007},{"s":"macd","i":127,"v":-0.00002},{"s":"macd","i":130,"v":-0.00005},{"s":"macd","i":133,"v":-0.00017},{"s":"macd","i":137,"v":-0.00038},{"s":"macd","i":139,"v":-0.00048},{"s":"macd","i":142,"v":-0.00042},{"s":"macd","i":144,"v":-0.00019},{"s":"macd","i":148,"v":0.00014},{"s":"macd","i":152,"v":0.00019},{"s":"macd","i":155,"v":0.00016},{"s":"macd","i":158,"v":0.00006},{"s":"macd","i":162,"v":-0.00016},{"s":"macd","i":165,"v":-0.00017},{"s":"macd","i":169,"v":-0.00002},{"s":"macd","i":171,"v":-0.00005},{"s":"macd","i":174,"v":-0.00014},{"s":"macd","i":179,"v":-0.0002},{"s":"macd","i":182,"v":-0.00016},{"s":"macd","i":186,"v":0.0001},{"s":"macd","i":189,"v":0.00014},{"s":"macd","i":192,"v":0.00012},{"s":"macd","i":195,"v":0.00025},{"s":"macd","i":198,"v":0.0002},{"s":"macd","i":203,"v":0.00002},{"s":"macd","i":207,"v":-0.00015},{"s":"macd","i":212,"v":-0.00022},{"s":"macd","i":216,"v":-0.00015},{"s":"macd","i":219,"v":-0.00007},{"s":"macd","i":223,"v":-0.00013},{"s":"macd","i":227,"v":-0.00009},{"s":"macd","i":230,"v":-0.00011},{"s":"macd","i":234,"v":-0.00016},{"s":"macd","i":239,"v":-0.00019},{"s":"macd","i":243,"v":-0.00006},{"s":"macd","i":248,"v":-0.00001},{"s":"macd","i":251,"v":0.00024},{"s":"macd","i":254,"v":0.00035},{"s":"macd","i":259,"v":0.00038},{"s":"macd","i":264,"v":0.00016},{"s":"macd","i":268,"v":0.00027},{"s":"macd","i":272,"v":0.00006},{"s":"macd","i":276,"v":-0.00007},{"s":"macd","i":279,"v":-0.00016},{"s":"macd","i":283,"v":-0.00002},{"s":"macd","i":288,"v":0.00002},{"s":"macd","i":292,"v":-0.00011},{"s":"macd","i":298,"v":-0.00016},{"s":"macd","i":304,"v":-0.00018},{"s":"macd","i":306,"v":-0.00001},{"s":"macd","i":310,"v":0.0002},{"s":"macd","i":315,"v":0.00039},{"s":"macd","i":319,"v":0.0003},{"s":"macd","i":324,"v":0.00014},{"s":"macd","i":327,"v":0.00009},{"s":"macd","i":332,"v":-0.00021},{"s":"macd","i":334,"v":-0.0002},{"s":"macd","i":338,"v":-0.00027},{"s":"macd","i":341,"v":-0.00001},{"s":"macd","i":345,"v":0.00001},{"s":"macd","i":349,"v":-0.00005},{"s":"macd","i":354,"v":-0.00002},{"s":"macd","i":359,"v":0.00006},{"s":"macd","i":361,"v":0.00015},{"s":"macd","i":363,"v":0.00014},{"s":"macd","i":366,"v":0.00006},{"s":"macd","i":369,"v":0.00004},{"s":"macd","i":376,"v":0.00002},{"s":"macd","i":382,"v":0.00002},{"s":"macd","i":384,"v":-0.00002},{"s":"macd","i":389,"v":-0.00004},{"s":"macd","i":391,"v":-0.00007},{"s":"macd","i":396,"v":-0.00011},{"s":"macd","i":399,"v":0.00004},{"s":"macd","i":402,"v":0.00012},{"s":"macd","i":406,"v":0.00024},{"s":"macd","i":409,"v":0.00028},{"s":"macd","i":412,"v":0.00017},{"s":"macd","i":417,"v":0.00009},{"s":"macd","i":420,"v":0.00005},{"s":"macd","i":423,"v":0.00008},{"s":"macd","i":424,"v":0.00009},{"s":"macd","i":425,"v":0.00019},{"s":"macd","i":426,"v":0.00046},{"s":"macd","i":427,"v":0.00098},{"s":"macd","i":428,"v":0.00123},{"s":"macd","i":429,"v":0.00168},
{"s":"signal","i":27,"v":-0.00101},{"s":"signal","i":30,"v":-0.00085},{"s":"signal","i":32,"v":-0.00083},{"s":"signal","i":36,"v":-0.00086},{"s":"signal","i":41,"v":-0.0008},{"s":"signal","i":45,"v":-0.00059},{"s":"signal","i":48,"v":-0.00047},{"s":"signal","i":53,"v":-0.00038},{"s":"signal","i":58,"v":-0.00025},{"s":"signal","i":62,"v":-0.00005},{"s":"signal","i":67,"v":0.00009},{"s":"signal","i":72,"v":0.00033},{"s":"signal","i":77,"v":0.0005},{"s":"signal","i":84,"v":0.00052},{"s":"signal","i":88,"v":0.00048},{"s":"signal","i":93,"v":0.00015},{"s":"signal","i":97,"v":-0.00004},{"s":"signal","i":101,"v":-0.00016},{"s":"signal","i":105,"v":-0.00021},{"s":"signal","i":110,"v":-0.00025},{"s":"signal","i":115,"v":-0.00031},{"s":"signal","i":120,"v":-0.00027},{"s":"signal","i":125,"v":-0.00017},{"s":"signal","i":129,"v":-0.00009},{"s":"signal","i":132,"v":-0.00009},{"s":"signal","i":135,"v":-0.00019},{"s":"signal","i":139,"v":-0.00033},{"s":"signal","i":142,"v":-0.00039},{"s":"signal","i":146,"v":-0.00024},{"s":"signal","i":150,"v":-0.00001},{"s":"signal","i":155,"v":0.0001},{"s":"signal","i":160,"v":0.00006},{"s":"signal","i":165,"v":-0.00009},{"s":"signal","i":170,"v":-0.00007},{"s":"signal","i":175,"v":-0.0001},{"s":"signal","i":181,"v":-0.00018},{"s":"signal","i":186,"v":-0.00004},{"s":"signal","i":191,"v":0.00007},{"s":"signal","i":195,"v":0.00014},{"s":"signal","i":199,"v":0.00018},{"s":"signal","i":204,"v":0.00006},{"s":"signal","i":210,"v":-0.0001},{"s":"signal","i":214,"v":-0.00018},{"s":"signal","i":219,"v":-0.00012},{"s":"signal","i":224,"v":-0.00011},{"s":"signal","i":230,"v":-0.0001},{"s":"signal","i":234,"v":-0.00016},{"s":"signal","i":239,"v":-0.00017},{"s":"signal","i":243,"v":-0.0001},{"s":"signal","i":248,"v":-0.00005},{"s":"signal","i":252,"v":0.00012},{"s":"signal","i":256,"v":0.00025},{"s":"signal","i":260,"v":0.00032},{"s":"signal","i":264,"v":0.00024},{"s":"signal","i":270,"v":0.00023},{"s":"signal","i":275,"v":0.00006},{"s":"signal","i":281,"v":-0.00007},{"s":"signal","i":288,"v":-0.00001},{"s":"signal","i":294,"v":-0.00008},{"s":"signal","i":304,"v":-0.00017},{"s":"signal","i":309,"v":-0.00004},{"s":"signal","i":313,"v":0.00018},{"s":"signal","i":317,"v":0.00029},{"s":"signal","i":321,"v":0.00029},{"s":"signal","i":327,"v":0.00015},{"s":"signal","i":331,"v":-0.00004},{"s":"signal","i":335,"v":-0.00017},{"s":"signal","i":339,"v":-0.00021},{"s":"signal","i":345,"v":-0.00006},{"s":"signal","i":350,"v":-0.00004},{"s":"signal","i":357,"v":-0.00002},{"s":"signal","i":364,"v":0.0001},{"s":"signal","i":367,"v":0.00007},{"s":"signal","i":374,"v":0.00004},{"s":"signal","i":382,"v":0.00004},{"s":"signal","i":387,"v":0.00001},{"s":"signal","i":396,"v":-0.00005},{"s":"signal","i":402,"v":0.00006},{"s":"signal","i":409,"v":0.00021},{"s":"signal","i":417,"v":0.00014},{"s":"signal","i":422,"v":0.00009},{"s":"signal","i":425,"v":0.00012},{"s":"signal","i":426,"v":0.00022},{"s":"signal","i":427,"v":0.00035},{"s":"signal","i":428,"v":0.00054},{"s":"signal","i":429,"v":0.00075}
],
"hist":[
{"i":27,"v":0.00024,"s":"pd"},{"i":28,"v":0.00024,"s":"pd"},{"i":29,"v":0.00021,"s":"pd"},{"i":30,"v":0.00015,"s":"pd"},{"i":31,"v":0.00006,"s":"pd"},{"i":32,"v":0.00001,"s":"pd"},{"i":33,"v":-0.00002,"s":"nd"},{"i":34,"v":-0.00005,"s":"nd"},{"i":35,"v":-0.00005,"s":"nd"},{"i":36,"v":-0.00002,"s":"nu"},{"i":38,"v":0.00001,"s":"pu"},{"i":39,"v":0.00003,"s":"pu"},{"i":40,"v":0.00005,"s":"pu"},{"i":41,"v":0.00008,"s":"pu"},{"i":42,"v":0.00011,"s":"pu"},{"i":43,"v":0.00013,"s":"pu"},{"i":44,"v":0.00018,"s":"pu"},{"i":45,"v":0.00017,"s":"pd"},{"i":46,"v":0.00017,"s":"pd"},{"i":47,"v":0.00016,"s":"pd"},{"i":48,"v":0.00015,"s":"pd"},{"i":49,"v":0.00012,"s":"pd"},{"i":50,"v":0.0001,"s":"pd"},{"i":51,"v":0.00008,"s":"pd"},{"i":52,"v":0.00007,"s":"pd"},{"i":53,"v":0.00009,"s":"pu"},{"i":54,"v":0.00011,"s":"pu"},{"i":55,"v":0.00012,"s":"pu"},{"i":56,"v":0.00013,"s":"pu"},{"i":57,"v":0.00014,"s":"pu"},{"i":58,"v":0.00015,"s":"pu"},{"i":59,"v":0.00017,"s":"pu"},{"i":60,"v":0.00021,"s":"pu"},{"i":61,"v":0.00021,"s":"pu"},{"i":62,"v":0.00019,"s":"pd"},{"i":63,"v":0.00017,"s":"pd"},{"i":64,"v":0.00012,"s":"pd"},{"i":65,"v":0.0001,"s":"pu"},{"i":66,"v":0.00012,"s":"pu"},{"i":67,"v":0.00015,"s":"pu"},{"i":68,"v":0.00018,"s":"pu"},{"i":69,"v":0.00021,"s":"pu"},{"i":70,"v":0.00024,"s":"pu"},{"i":71,"v":0.00022,"s":"pd"},{"i":72,"v":0.00021,"s":"pd"},{"i":73,"v":0.0002,"s":"pd"},{"i":74,"v":0.00018,"s":"pd"},{"i":75,"v":0.00016,"s":"pd"},{"i":76,"v":0.00015,"s":"pu"},{"i":77,"v":0.00008,"s":"pd"},{"i":78,"v":0.00005,"s":"pd"},{"i":79,"v":0.00003,"s":"pd"},{"i":80,"v":0.00002,"s":"pd"},{"i":81,"v":0.00001,"s":"pd"},{"i":82,"v":0.00001,"s":"pu"},{"i":83,"v":0.00002,"s":"pu"},{"i":84,"v":0.00005,"s":"pu"},{"i":85,"v":-0.00002,"s":"nd"},{"i":86,"v":-0.00004,"s":"nd"},{"i":87,"v":-0.00008,"s":"nd"},{"i":88,"v":-0.00012,"s":"nd"},{"i":89,"v":-0.00018,"s":"nd"},{"i":90,"v":-0.00024,"s":"nd"},{"i":91,"v":-0.00029,"s":"nd"},{"i":92,"v":-0.00025,"s":"nu"},{"i":93,"v":-0.00023,"s":"nu"},{"i":94,"v":-0.0002,"s":"nu"},{"i":95,"v":-0.00018,"s":"nu"},{"i":96,"v":-0.00017,"s":"nu"},{"i":97,"v":-0.00016,"s":"nu"},{"i":98,"v":-0.00014,"s":"nu"},{"i":99,"v":-0.00015,"s":"nd"},
{"i":100,"v":-0.00012,"s":"nu"},{"i":101,"v":-0.00009,"s":"nu"},{"i":102,"v":-0.00006,"s":"nu"},{"i":103,"v":-0.00002,"s":"nu"},{"i":104,"v":-0.00001,"s":"nu"},{"i":105,"v":0.00001,"s":"pu"},{"i":106,"v":0.00003,"s":"pu"},{"i":107,"v":-0.00001,"s":"nd"},{"i":108,"v":-0.00002,"s":"nd"},{"i":109,"v":-0.00004,"s":"nd"},{"i":110,"v":-0.00005,"s":"nd"},{"i":111,"v":-0.00005,"s":"nd"},{"i":112,"v":-0.00005,"s":"nd"},{"i":113,"v":-0.00005,"s":"nd"},{"i":114,"v":-0.00005,"s":"nd"},{"i":115,"v":-0.00002,"s":"nu"},{"i":116,"v":0.00001,"s":"pu"},{"i":117,"v":0.00003,"s":"pu"},{"i":118,"v":0.00003,"s":"pd"},{"i":119,"v":0.00001,"s":"pd"},{"i":120,"v":0.00001,"s":"pu"},{"i":121,"v":0.00003,"s":"pu"},{"i":122,"v":0.00006,"s":"pu"},{"i":123,"v":0.00009,"s":"pu"},{"i":124,"v":0.00011,"s":"pu"},{"i":125,"v":0.00011,"s":"pu"},{"i":126,"v":0.0001,"s":"pu"},{"i":127,"v":0.00012,"s":"pu"},{"i":128,"v":0.00008,"s":"pd"},{"i":129,"v":0.00006,"s":"pd"},{"i":130,"v":0.00003,"s":"pd"},{"i":131,"v":0.00001,"s":"pd"},{"i":132,"v":-0.00002,"s":"nd"},{"i":133,"v":-0.00005,"s":"nd"},{"i":134,"v":-0.00007,"s":"nd"},{"i":135,"v":-0.00009,"s":"nd"},{"i":136,"v":-0.00011,"s":"nd"},{"i":137,"v":-0.00013,"s":"nd"},{"i":138,"v":-0.00016,"s":"nd"},{"i":139,"v":-0.00012,"s":"nu"},{"i":140,"v":-0.0001,"s":"nu"},{"i":141,"v":-0.00007,"s":"nu"},{"i":142,"v":-0.00004,"s":"nu"},{"i":143,"v":-0.00001,"s":"nu"},{"i":144,"v":0.00002,"s":"pu"},{"i":145,"v":0.00007,"s":"pu"},{"i":146,"v":0.00016,"s":"pu"},{"i":147,"v":0.00016,"s":"pu"},{"i":148,"v":0.00021,"s":"pu"},{"i":149,"v":0.00027,"s":"pu"},{"i":150,"v":0.00022,"s":"pd"},{"i":151,"v":0.0002,"s":"pd"},{"i":152,"v":0.00017,"s":"pd"},{"i":153,"v":0.00013,"s":"pd"},{"i":154,"v":0.0001,"s":"pd"},{"i":155,"v":0.00006,"s":"pd"},{"i":156,"v":0.00004,"s":"pd"},{"i":157,"v":0.00002,"s":"pd"},{"i":158,"v":-0.00001,"s":"nd"},{"i":159,"v":-0.00002,"s":"nd"},{"i":160,"v":-0.00005,"s":"nd"},{"i":161,"v":-0.00009,"s":"nd"},{"i":162,"v":-0.00014,"s":"nd"},{"i":163,"v":-0.00017,"s":"nd"},{"i":164,"v":-0.00013,"s":"nu"},{"i":165,"v":-0.00009,"s":"nu"},{"i":166,"v":-0.00006,"s":"nu"},{"i":167,"v":-0.00003,"s":"nu"},{"i":168,"v":0.00002,"s":"pu"},{"i":169,"v":0.00007,"s":"pu"},{"i":170,"v":0.00005,"s":"pd"},{"i":171,"v":0.00003,"s":"pd"},{"i":172,"v":0.00001,"s":"pd"},{"i":173,"v":-0.00001,"s":"nd"},{"i":174,"v":-0.00003,"s":"nd"},{"i":175,"v":-0.00004,"s":"nd"},{"i":176,"v":-0.00006,"s":"nd"},{"i":177,"v":-0.00005,"s":"nd"},{"i":178,"v":-0.00003,"s":"nu"},{"i":179,"v":-0.00002,"s":"nu"},{"i":180,"v":-0.00002,"s":"nu"},{"i":181,"v":-0.00001,"s":"nu"},{"i":182,"v":-0.00001,"s":"nd"},{"i":183,"v":0.00001,"s":"pu"},{"i":184,"v":0.00006,"s":"pu"},{"i":185,"v":0.00008,"s":"pu"},{"i":186,"v":0.0001,"s":"pu"},{"i":187,"v":0.00013,"s":"pu"},{"i":188,"v":0.00015,"s":"pu"},{"i":189,"v":0.00013,"s":"pd"},{"i":190,"v":0.00012,"s":"pd"},{"i":191,"v":0.00011,"s":"pd"},{"i":192,"v":0.0001,"s":"pd"},{"i":193,"v":0.00008,"s":"pu"},{"i":194,"v":0.00009,"s":"pu"},{"i":195,"v":0.0001,"s":"pu"},{"i":196,"v":0.00011,"s":"pu"},{"i":197,"v":0.00007,"s":"pd"},{"i":198,"v":0.00005,"s":"pd"},{"i":199,"v":0.00003,"s":"pd"},
{"i":200,"v":0.00002,"s":"pd"},{"i":201,"v":0.00001,"s":"pd"},{"i":202,"v":-0.00001,"s":"nd"},{"i":203,"v":-0.00002,"s":"nd"},{"i":204,"v":-0.00006,"s":"nd"},{"i":205,"v":-0.00009,"s":"nd"},{"i":206,"v":-0.00011,"s":"nd"},{"i":207,"v":-0.00013,"s":"nd"},{"i":208,"v":-0.0001,"s":"nu"},{"i":209,"v":-0.00008,"s":"nu"},{"i":210,"v":-0.00007,"s":"nu"},{"i":211,"v":-0.00005,"s":"nu"},{"i":212,"v":-0.00004,"s":"nu"},{"i":213,"v":-0.00003,"s":"nu"},{"i":214,"v":-0.00002,"s":"nu"},{"i":215,"v":-0.00001,"s":"nu"},{"i":216,"v":0.00001,"s":"pu"},{"i":217,"v":0.00003,"s":"pu"},{"i":218,"v":0.00004,"s":"pu"},{"i":219,"v":0.00006,"s":"pu"},{"i":220,"v":0.00006,"s":"pu"},{"i":221,"v":0.00004,"s":"pd"},{"i":222,"v":0.00001,"s":"pd"},{"i":223,"v":-0.00001,"s":"nd"},{"i":224,"v":0.00001,"s":"pu"},{"i":225,"v":0.00002,"s":"pu"},{"i":226,"v":0.00002,"s":"pu"},{"i":227,"v":0.00001,"s":"pd"},{"i":228,"v":0.00001,"s":"pu"},{"i":230,"v":-0.00002,"s":"nd"},{"i":231,"v":-0.00002,"s":"nd"},{"i":232,"v":-0.00001,"s":"nu"},{"i":233,"v":-0.00002,"s":"nd"},{"i":234,"v":-0.00002,"s":"nd"},{"i":235,"v":-0.00001,"s":"nu"},{"i":236,"v":-0.00001,"s":"nu"},{"i":238,"v":-0.00001,"s":"nd"},{"i":239,"v":0.00003,"s":"pu"},{"i":240,"v":0.00004,"s":"pu"},{"i":241,"v":0.00005,"s":"pu"},{"i":242,"v":0.00006,"s":"pu"},{"i":243,"v":0.00008,"s":"pu"},{"i":244,"v":0.00005,"s":"pd"},{"i":245,"v":0.00005,"s":"pd"},{"i":246,"v":0.00004,"s":"pd"},{"i":247,"v":0.00004,"s":"pd"},{"i":248,"v":0.00005,"s":"pu"},{"i":249,"v":0.00012,"s":"pu"},{"i":250,"v":0.00016,"s":"pu"},{"i":251,"v":0.00019,"s":"pu"},{"i":252,"v":0.00017,"s":"pd"},{"i":253,"v":0.00016,"s":"pd"},{"i":254,"v":0.00016,"s":"pd"},{"i":255,"v":0.00015,"s":"pd"},{"i":256,"v":0.00014,"s":"pd"},{"i":257,"v":0.00012,"s":"pd"},{"i":258,"v":0.0001,"s":"pd"},{"i":259,"v":0.00006,"s":"pd"},{"i":260,"v":0.00003,"s":"pd"},{"i":261,"v":0.00001,"s":"pd"},{"i":262,"v":-0.00001,"s":"nd"},{"i":263,"v":-0.00003,"s":"nd"},{"i":264,"v":-0.00005,"s":"nd"},{"i":265,"v":-0.00007,"s":"nd"},{"i":266,"v":-0.00002,"s":"nu"},{"i":267,"v":0.00002,"s":"pu"},{"i":268,"v":0.00003,"s":"pu"},{"i":269,"v":0.00001,"s":"pd"},{"i":270,"v":-0.00001,"s":"nd"},{"i":271,"v":-0.00003,"s":"nd"},{"i":272,"v":-0.00006,"s":"nd"},{"i":273,"v":-0.0001,"s":"nd"},{"i":274,"v":-0.00012,"s":"nd"},{"i":275,"v":-0.00013,"s":"nd"},{"i":276,"v":-0.00011,"s":"nu"},{"i":277,"v":-0.00009,"s":"nu"},{"i":278,"v":-0.00008,"s":"nu"},{"i":279,"v":-0.00012,"s":"nd"},{"i":280,"v":-0.00006,"s":"nu"},{"i":281,"v":-0.00005,"s":"nu"},{"i":282,"v":-0.00002,"s":"nu"},{"i":283,"v":0.00001,"s":"pu"},{"i":284,"v":0.00004,"s":"pu"},{"i":285,"v":0.00005,"s":"pu"},{"i":286,"v":0.00006,"s":"pu"},{"i":287,"v":0.00005,"s":"pd"},{"i":288,"v":0.00003,"s":"pd"},{"i":289,"v":0.00001,"s":"pd"},{"i":290,"v":-0.00002,"s":"nd"},{"i":291,"v":-0.00004,"s":"nd"},{"i":292,"v":-0.00004,"s":"nd"},{"i":293,"v":-0.00005,"s":"nd"},{"i":294,"v":-0.00003,"s":"nu"},{"i":295,"v":-0.00004,"s":"nd"},{"i":296,"v":-0.00002,"s":"nu"},{"i":297,"v":-0.00003,"s":"nd"},{"i":298,"v":-0.00004,"s":"nd"},{"i":299,"v":-0.00002,"s":"nu"},
{"i":300,"v":-0.00002,"s":"nu"},{"i":301,"v":-0.00001,"s":"nu"},{"i":302,"v":-0.00002,"s":"nd"},{"i":303,"v":-0.00002,"s":"nu"},{"i":304,"v":-0.00001,"s":"nu"},{"i":305,"v":0.00002,"s":"pu"},{"i":306,"v":0.00008,"s":"pu"},{"i":307,"v":0.00012,"s":"pu"},{"i":308,"v":0.00015,"s":"pu"},{"i":309,"v":0.00012,"s":"pd"},{"i":310,"v":0.00015,"s":"pu"},{"i":311,"v":0.00018,"s":"pu"},{"i":312,"v":0.00018,"s":"pu"},{"i":313,"v":0.0002,"s":"pu"},{"i":314,"v":0.00019,"s":"pu"},{"i":315,"v":0.00019,"s":"pu"},{"i":316,"v":0.00012,"s":"pd"},{"i":317,"v":0.00008,"s":"pd"},{"i":318,"v":0.00005,"s":"pd"},{"i":319,"v":0.00002,"s":"pd"},{"i":320,"v":0.00001,"s":"pd"},{"i":322,"v":-0.00002,"s":"nd"},{"i":323,"v":-0.00006,"s":"nd"},{"i":324,"v":-0.00009,"s":"nd"},{"i":325,"v":-0.0001,"s":"nu"},{"i":326,"v":-0.0001,"s":"nu"},{"i":327,"v":-0.00011,"s":"nd"},{"i":328,"v":-0.00013,"s":"nd"},{"i":329,"v":-0.00017,"s":"nd"},{"i":330,"v":-0.00022,"s":"nd"},{"i":331,"v":-0.00025,"s":"nd"},{"i":332,"v":-0.00015,"s":"nu"},{"i":333,"v":-0.00012,"s":"nu"},{"i":334,"v":-0.0001,"s":"nu"},{"i":335,"v":-0.00009,"s":"nu"},{"i":336,"v":-0.00008,"s":"nu"},{"i":337,"v":-0.0001,"s":"nd"},{"i":338,"v":-0.0001,"s":"nd"},{"i":339,"v":-0.00004,"s":"nu"},{"i":340,"v":-0.00002,"s":"nu"},{"i":341,"v":0.00008,"s":"pu"},{"i":342,"v":0.00015,"s":"pu"},{"i":343,"v":0.00014,"s":"pd"},{"i":344,"v":0.00012,"s":"pd"},{"i":345,"v":0.00011,"s":"pd"},{"i":346,"v":0.0001,"s":"pd"},{"i":347,"v":0.00006,"s":"pd"},{"i":348,"v":0.00004,"s":"pd"},{"i":349,"v":0.00001,"s":"pd"},{"i":350,"v":0.00001,"s":"pd"},{"i":351,"v":0.00001,"s":"pu"},{"i":352,"v":0.00004,"s":"pu"},{"i":353,"v":0.00002,"s":"pd"},{"i":354,"v":0.00003,"s":"pu"},{"i":355,"v":0.00002,"s":"pd"},{"i":356,"v":0.00004,"s":"pu"},{"i":357,"v":0.00002,"s":"pd"},{"i":358,"v":0.00004,"s":"pu"},{"i":359,"v":0.00008,"s":"pu"},{"i":360,"v":0.0001,"s":"pu"},{"i":361,"v":0.00012,"s":"pu"},{"i":362,"v":0.00011,"s":"pd"},{"i":363,"v":0.00006,"s":"pd"},{"i":364,"v":0.00004,"s":"pd"},{"i":365,"v":0.00003,"s":"pd"},{"i":366,"v":0.00002,"s":"pd"},{"i":367,"v":0.00001,"s":"pd"},{"i":368,"v":-0.00001,"s":"nd"},{"i":369,"v":-0.00002,"s":"nd"},{"i":370,"v":-0.00002,"s":"nd"},{"i":371,"v":-0.00001,"s":"nu"},{"i":372,"v":-0.00002,"s":"nd"},{"i":373,"v":-0.00002,"s":"nd"},{"i":374,"v":-0.00001,"s":"nu"},{"i":376,"v":0.00001,"s":"pu"},{"i":377,"v":0.00001,"s":"pu"},{"i":378,"v":-0.00001,"s":"nd"},{"i":379,"v":-0.00001,"s":"nd"},{"i":380,"v":-0.00001,"s":"nu"},{"i":381,"v":-0.00001,"s":"nd"},{"i":382,"v":-0.00001,"s":"nu"},{"i":383,"v":-0.00002,"s":"nd"},{"i":384,"v":-0.00005,"s":"nd"},{"i":385,"v":-0.00002,"s":"nu"},{"i":386,"v":-0.00002,"s":"nu"},{"i":387,"v":-0.00002,"s":"nu"},{"i":388,"v":-0.00002,"s":"nu"},{"i":389,"v":-0.00003,"s":"nd"},{"i":390,"v":-0.00003,"s":"nd"},{"i":391,"v":-0.00002,"s":"nu"},{"i":392,"v":-0.00001,"s":"nu"},{"i":393,"v":-0.00003,"s":"nd"},{"i":394,"v":-0.00004,"s":"nd"},{"i":395,"v":-0.00005,"s":"nd"},{"i":396,"v":-0.00005,"s":"nd"},{"i":397,"v":-0.00002,"s":"nu"},{"i":398,"v":0.00001,"s":"pu"},{"i":399,"v":0.00004,"s":"pu"},
{"i":400,"v":0.00008,"s":"pu"},{"i":401,"v":0.00011,"s":"pu"},{"i":402,"v":0.00014,"s":"pu"},{"i":403,"v":0.00011,"s":"pd"},{"i":404,"v":0.00009,"s":"pd"},{"i":405,"v":0.00007,"s":"pu"},{"i":406,"v":0.00009,"s":"pu"},{"i":407,"v":0.00013,"s":"pu"},{"i":408,"v":0.00012,"s":"pd"},{"i":409,"v":0.00012,"s":"pd"},{"i":410,"v":0.00011,"s":"pd"},{"i":411,"v":0.00008,"s":"pd"},{"i":412,"v":0.00001,"s":"pd"},{"i":413,"v":-0.00003,"s":"nd"},{"i":414,"v":-0.00006,"s":"nd"},{"i":415,"v":-0.00005,"s":"nu"},{"i":416,"v":-0.00003,"s":"nu"},{"i":417,"v":-0.00004,"s":"nu"},{"i":418,"v":-0.00005,"s":"nd"},{"i":419,"v":-0.00006,"s":"nd"},{"i":420,"v":-0.00003,"s":"nu"},{"i":421,"v":-0.00002,"s":"nu"},{"i":422,"v":-0.00003,"s":"nd"},{"i":423,"v":-0.00001,"s":"nu"},{"i":424,"v":0.00006,"s":"pu"},{"i":425,"v":0.00012,"s":"pu"},{"i":426,"v":0.00028,"s":"pu"},{"i":427,"v":0.00063,"s":"pu"},{"i":428,"v":0.00069,"s":"pu"},{"i":429,"v":0.000928,"s":"pu"}
]},
"vconcat":[
{"width":2159,"height":1047,
"encoding":{"x":{"field":"i","type":"quantitative","scale":{"domain":[-27,528.17]},"axis":null},"y":{"field":"p","type":"quantitative","scale":{"domain":[0.008537,0.027688]},"axis":{"orient":"right","offset":-61,"values":[0.009,0.01,0.011,0.013,0.014,0.015,0.016,0.017,0.018,0.019,0.02,0.021,0.023,0.024,0.025,0.026,0.027],"format":".6f","title":null,"grid":false,"ticks":false,"domain":false,"labelPadding":0,"labelAlign":"left","labelBaseline":"middle","labelFont":"Noto Sans CJK SC","labelFontSize":10.5,"labelColor":"#131722","labelOverlap":false,"labelBound":false,"labelFlush":false}}},
"layer":[
{"data":{"values":[{"t":"INXUSDT.P, 4小时","i":241,"p":0.018515}]},"mark":{"type":"text","fontSize":76.8,"color":"#aeaa94","align":"center","baseline":"middle"},"encoding":{"text":{"field":"t"}}},
{"data":{"values":[{"t":"INX / TetherUS PERPETUAL CONTRACT","i":241,"p":0.017358}]},"mark":{"type":"text","fontSize":34.7,"color":"#aeaa94","align":"center","baseline":"middle"},"encoding":{"text":{"field":"t"}}},
{"data":{"values":[{"i":-27,"i2":495.2,"p":0.02208}]},"mark":{"type":"rule","color":"#089981","strokeWidth":1,"strokeDash":[1,2]},"encoding":{"x2":{"field":"i2"}}},
{"data":{"values":[{"i":52,"i2":510.4,"p":0.010605}]},"mark":{"type":"rule","color":"#000000","strokeWidth":2},"encoding":{"x2":{"field":"i2"}}},
{"data":{"name":"candles"},"mark":{"type":"rule","strokeWidth":1.2},"encoding":{"y":{"field":"l","type":"quantitative","scale":{"domain":[0.008537,0.027688]}},"y2":{"field":"h"},"color":{"condition":{"test":"datum.c>=datum.o","value":"#13907a"},"value":"#e53d42"}}},
{"data":{"name":"candles"},"mark":{"type":"rule","strokeWidth":3.2},"encoding":{"y":{"field":"o","type":"quantitative","scale":{"domain":[0.008537,0.027688]}},"y2":{"field":"c"},"color":{"condition":{"test":"datum.c>=datum.o","value":"#13907a"},"value":"#e53d42"}}},
{"data":{"values":[{"i":312,"i2":465,"p":0.022149,"p2":0.011945}]},"mark":{"type":"rect","color":"#2962ff","opacity":0.2},"encoding":{"x2":{"field":"i2"},"y2":{"field":"p2"}}},
{"data":{"values":[{"i":510.4,"i2":527.2,"p":0.022149,"p2":0.011945}]},"mark":{"type":"rect","color":"#2962ff","opacity":0.2},"encoding":{"x2":{"field":"i2"},"y2":{"field":"p2"}}},
{"data":{"values":[{"i":312,"i2":465,"p":0.017047}]},"mark":{"type":"rule","color":"#2458e0","strokeWidth":1.2},"encoding":{"x2":{"field":"i2"}}},
{"data":{"values":[{"i":388.6,"p":0.011945,"p2":0.022149}]},"mark":{"type":"rule","color":"#2458e0","strokeWidth":1.2},"encoding":{"y2":{"field":"p2"}}},
{"data":{"values":[{"a":"v","n":1,"i":387.2,"p":0.02206},{"a":"v","n":2,"i":388.6,"p":0.022149},{"a":"v","n":3,"i":390,"p":0.02206},{"a":"h","n":1,"i":463.6,"p":0.017138},{"a":"h","n":2,"i":465,"p":0.017047},{"a":"h","n":3,"i":463.6,"p":0.016956}]},"mark":{"type":"line","color":"#2458e0","strokeWidth":1.2},"encoding":{"detail":{"field":"a"},"order":{"field":"n"}}},
{"data":{"values":[{"k":"tip","i":368.7,"i2":408.8,"p":0.023609,"p2":0.022329},{"k":"last","i":510.4,"i2":525.1,"p":0.022292,"p2":0.021981},{"k":"count","i":510.4,"i2":525.1,"p":0.021981,"p2":0.021689},{"k":"count","i":495.2,"i2":510.1,"p":0.022237,"p2":0.021926},{"k":"last","i":510.4,"i2":525.1,"p":0.012085,"p2":0.011774},{"k":"line","i":510.4,"i2":525.1,"p":0.01075,"p2":0.010448},{"k":"ext","i":510.4,"i2":525.1,"p":0.010448,"p2":0.010165},{"k":"ext","i":500.1,"i2":509.9,"p":0.010448,"p2":0.010165},{"k":"ext","i":510.4,"i2":525.1,"p":0.026005,"p2":0.025713},{"k":"ext","i":500.1,"i2":509.9,"p":0.026005,"p2":0.025713},{"k":"unit","i":511.4,"i2":526.4,"p":0.027688,"p2":0.027249}]},"mark":{"type":"rect","cornerRadius":2},"encoding":{"x2":{"field":"i2"},"y2":{"field":"p2"},"color":{"field":"k","type":"nominal","legend":null,"scale":{"domain":["tip","last","count","line","ext","unit"],"range":["#2962ff","#2962ff","#089981","#000000","#e3eefb","#ffffff"]}}}},
{"data":{"values":[{"t":"0.010204 (85.43%) 10,204","i":388.8,"p":0.02334},{"t":"153根K线, 25天 12小时","i":388.8,"p":0.02297},{"t":"成交量 8.38 B","i":388.8,"p":0.0226}]},"mark":{"type":"text","fontSize":11.4,"fontWeight":500,"color":"#ffffff","align":"center","baseline":"middle"},"encoding":{"text":{"field":"t"}}},
{"data":{"values":[{"t":"INXUSDT.P","i":502.7,"p":0.02208}]},"mark":{"type":"text","fontSize":10.5,"fontWeight":500,"color":"#ffffff","align":"center","baseline":"middle"},"encoding":{"text":{"field":"t"}}},
{"data":{"values":[{"t":"0.022149","i":512.5,"p":0.022136},{"t":"02:37:20","i":512.5,"p":0.021835},{"t":"0.011945","i":512.5,"p":0.01193},{"t":"0.010605","i":512.5,"p":0.010594}]},"mark":{"type":"text","fontSize":10.5,"fontWeight":500,"color":"#ffffff","align":"left","baseline":"middle"},"encoding":{"text":{"field":"t"}}},
{"data":{"values":[{"t":"0.025859","i":512.5,"p":0.02585},{"t":"0.010502","i":512.5,"p":0.010293}]},"mark":{"type":"text","fontSize":10.5,"color":"#131722","align":"left","baseline":"middle"},"encoding":{"text":{"field":"t"}}},
{"data":{"values":[{"t":"USDT","i":512.2,"p":0.02747}]},"mark":{"type":"text","fontSize":11.5,"color":"#131722","align":"left","baseline":"middle"},"encoding":{"text":{"field":"t"}}},
{"data":{"values":[{"t":"最高价","i":505,"p":0.02585},{"t":"最低价","i":505,"p":0.010293}]},"mark":{"type":"text","fontSize":11,"color":"#131722","align":"center","baseline":"middle"},"encoding":{"text":{"field":"t"}}},
{"data":{"values":[{"i":525.1,"p":0.027486}]},"mark":{"type":"point","shape":"M-1,-.4 L0,.5 L1,-.4","size":36,"filled":false,"color":"#131722","strokeWidth":1,"opacity":1}},
{"data":{"values":[{"i":-15.3,"p":0.008811}]},"mark":{"type":"point","shape":"M-.95,.83 Q-.5,.35 -.3,.02 Q.05,-.2 .3,-.15 Q.5,-.3 .45,-.8 Q.5,-1 .7,-1 Q1,-1 .95,-.7 L.72,-.5 Q.62,-.2 .8,.1 Q.95,.5 .72,.96 L.4,.96 L.3,.67 L-.15,.67 L-.25,.96 L-.6,.96 L-.5,.75 L-.95,.83 Z","size":625,"filled":false,"color":"#131722","strokeWidth":1.4,"opacity":1}}
]},
{"width":2159,"height":222,
"encoding":{"x":{"field":"i","type":"quantitative","scale":{"domain":[-27,528.17]},"axis":{"orient":"bottom","offset":-15,"zindex":1,"values":[0,18,36,54,72,90,108,126,144,168,186,204,222,240,258,276,294,312,330,354,372,390,408,426,444,462,480,498],"labelExpr":"datum.value==0?'2月':datum.value==168?'3月':datum.value==354?'4月':''+(1+(datum.value<168?datum.value:datum.value<354?datum.value-168:datum.value-354)/6)","title":null,"grid":false,"ticks":false,"domain":false,"labelPadding":0,"labelBaseline":"middle","labelAlign":"center","labelFont":"Noto Sans CJK SC","labelFontSize":11,"labelColor":"#131722","labelFontWeight":{"condition":{"test":"datum.value==0||datum.value==168||datum.value==354","value":700},"value":400},"labelOverlap":false,"labelBound":false,"labelFlush":false}},"y":{"field":"v","type":"quantitative","scale":{"domain":[-0.002056,0.002056]},"axis":null},"color":{"field":"s","type":"nominal","legend":null,"scale":{"domain":["pu","pd","nu","nd","macd","signal","title","boxmacd","boxhist","boxsig"],"range":["#1f9a80","#b2dfdb","#ffcdd2","#ef5350","#3f6fd8","#f57c1f","#131722","#2962ff","#26a69a","#ff6d00"]}}},
"layer":[
{"data":{"values":[{"i":312,"i2":465,"v":-0.001519,"v2":-0.002037}]},"mark":{"type":"rect","color":"#c8d4d2"},"encoding":{"color":{"value":"#c8d4d2"},"x2":{"field":"i2"},"y2":{"field":"v2"}}},
{"data":{"values":[{"i":-27,"i2":510.4,"v":0}]},"mark":{"type":"rule","strokeWidth":1,"strokeDash":[5,6]},"encoding":{"color":{"value":"#b5b39b"},"x2":{"field":"i2"}}},
{"data":{"values":[{"i":-27,"i2":527.2,"v":0.00205}]},"mark":{"type":"rule","strokeWidth":1.2},"encoding":{"color":{"value":"#e3e3da"},"x2":{"field":"i2"}}},
{"data":{"name":"hist"},"mark":{"type":"rule","strokeWidth":1.7},"encoding":{"y2":{"datum":0}}},
{"data":{"name":"lines"},"mark":{"type":"line","strokeWidth":1.2}},
{"data":{"values":[{"t":"0.000000","i":512.5,"v":0},{"t":"−0.001000","i":512.5,"v":-0.001}]},"mark":{"type":"text","fontSize":10.5,"align":"left","baseline":"middle"},"encoding":{"color":{"value":"#131722"},"text":{"field":"t"}}},
{"data":{"values":[{"t":"0.002000","i":512.5,"v":0.002}]},"mark":{"type":"text","fontSize":10.5,"align":"left","baseline":"middle","clip":true},"encoding":{"color":{"value":"#131722"},"text":{"field":"t"}}},
{"data":{"values":[{"s":"boxmacd","i":510.4,"i2":525.1,"v":0.001852,"v2":0.001537},{"s":"boxhist","i":510.4,"i2":525.1,"v":0.001093,"v2":0.000796},{"s":"boxsig","i":510.4,"i2":525.1,"v":0.000796,"v2":0.000481}]},"mark":{"type":"rect","cornerRadius":1},"encoding":{"x2":{"field":"i2"},"y2":{"field":"v2"}}},
{"data":{"values":[{"t":"0.001682","i":512.5,"v":0.00168},{"t":"0.000928","i":512.5,"v":0.00093},{"t":"0.000754","i":512.5,"v":0.00063}]},"mark":{"type":"text","fontSize":10.5,"fontWeight":500,"align":"left","baseline":"middle"},"encoding":{"color":{"value":"#ffffff"},"text":{"field":"t"}}},
{"data":{"values":[{"t":"MACD close 12 26 9","i":-25.7,"v":0.00176,"s":"title"},{"t":"0.000928","i":5.1,"v":0.00176,"s":"pu"},{"t":"0.001682","i":20,"v":0.00176,"s":"macd"},{"t":"0.000754","i":35.2,"v":0.00176,"s":"signal"}]},"mark":{"type":"text","fontSize":12.5,"align":"left","baseline":"middle"},"encoding":{"text":{"field":"t"}}},
{"data":{"values":[{"t":"TradingView","i":-15.4,"v":-0.00114}]},"mark":{"type":"text","font":"Inter","fontSize":19.5,"fontWeight":700,"align":"left","baseline":"middle"},"encoding":{"color":{"value":"#0f0f0f"},"text":{"field":"t"}}},
{"data":{"values":[{"i":-21.2,"v":-0.00113}]},"mark":{"type":"point","shape":"M-1,-.52 H.16 V.57 H-.41 V-.16 H-1 Z M.19,-.34 a.2,.2 0 1 0 .4,0 a.2,.2 0 1 0 -.4,0 Z M.55,-.52 H1 L.55,.57 H.1 Z","size":961,"filled":true,"opacity":1},"encoding":{"color":{"value":"#0f0f0f"}}},
{"data":{"values":[{"i":518.9,"v":-0.001796}]},"mark":{"type":"point","shape":"M-1,0 L-.5,-.87 H.5 L1,0 L.5,.87 H-.5 Z M-.27,0 a.27,.27 0 1 0 .54,0 a.27,.27 0 1 0 -.54,0 Z","size":225,"filled":false,"strokeWidth":1,"opacity":1},"encoding":{"color":{"value":"#131722"}}}
]}
]}
